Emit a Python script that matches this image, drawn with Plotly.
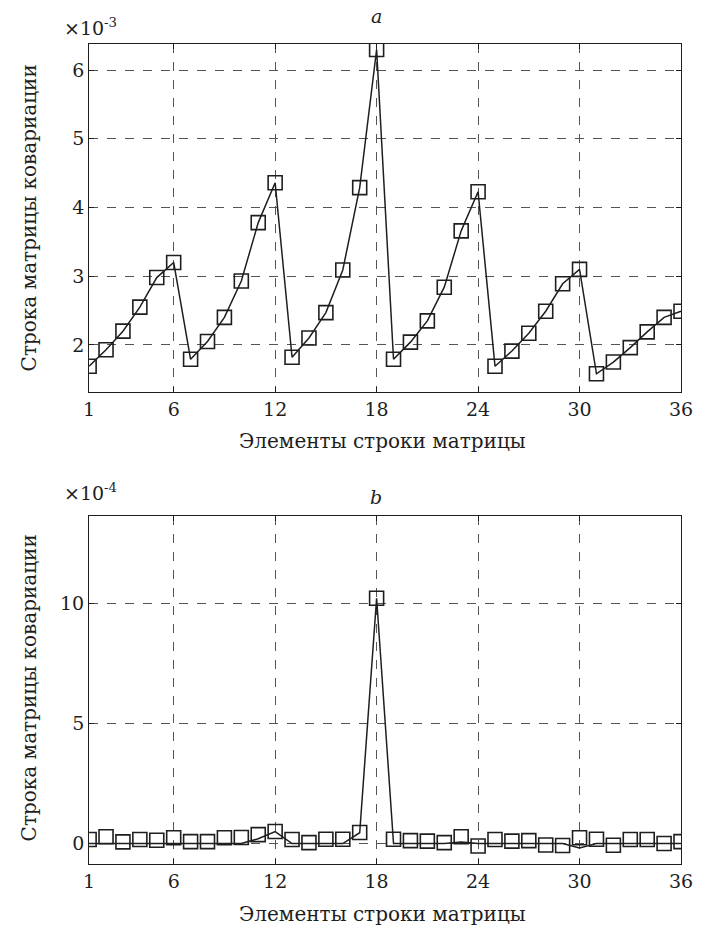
import plotly.graph_objects as go

# ---- data ----
elements = list(range(1, 37))
row_a = [1.69, 1.93, 2.20, 2.55, 2.98, 3.20, 1.79, 2.05, 2.40, 2.93, 3.78, 4.36,
         1.82, 2.10, 2.47, 3.09, 4.29, 6.30, 1.79, 2.04, 2.35, 2.84, 3.66, 4.23,
         1.69, 1.91, 2.17, 2.49, 2.89, 3.10, 1.58, 1.75, 1.96, 2.19, 2.40, 2.49]
line_b = [0, 0, 0, 0, 0, 0, 0, 0, 0, 0, 0.2, 0.5,
          0, 0, 0, 0, 0.45, 10.2, 0, 0, 0, 0, 0.06, 0,
          0, 0, 0, 0, 0, -0.18, 0, 0, 0, 0, 0, 0]
markers_b = [0.17, 0.28, 0.07, 0.17, 0.14, 0.24, 0.08, 0.08, 0.24, 0.25, 0.37, 0.50,
             0.17, 0.04, 0.18, 0.18, 0.46, 10.2, 0.18, 0.12, 0.10, 0.04, 0.28, -0.10,
             0.17, 0.10, 0.12, -0.06, -0.08, 0.24, 0.18, -0.07, 0.17, 0.17, 0.00, 0.08]
x_ticks = [1, 6, 12, 18, 24, 30, 36]
ya_ticks = [2, 3, 4, 5, 6]
yb_ticks = [0, 5, 10]

W, H = 705, 929
FONT = "'DejaVu Serif', 'Liberation Serif', serif"
INK = "#1e1e1e"

def py(pix):
    return 1 - pix / H

def px(pix):
    return pix / W

fig = go.Figure()
fig.add_trace(go.Scatter(x=elements, y=row_a, mode="lines+markers",
                         line=dict(color=INK, width=1.5),
                         marker=dict(symbol="square-open", size=14, color=INK, line=dict(width=1.6)),
                         xaxis="x", yaxis="y", showlegend=False))
fig.add_trace(go.Scatter(x=elements, y=line_b, mode="lines",
                         line=dict(color=INK, width=1.5),
                         xaxis="x2", yaxis="y2", showlegend=False))
fig.add_trace(go.Scatter(x=elements, y=markers_b, mode="markers",
                         marker=dict(symbol="square-open", size=14, color=INK, line=dict(width=1.6)),
                         xaxis="x2", yaxis="y2", showlegend=False))

xdom = [px(85.3), px(692.7)]
common_x = dict(range=[1, 36], tickvals=x_ticks, ticks="inside", ticklen=5, tickcolor=INK,
                showline=True, linecolor=INK, linewidth=1.2, mirror="ticks",
                showgrid=True, gridcolor="#555555", griddash="dash", gridwidth=1,
                zeroline=False, tickfont=dict(family=FONT, size=19, color=INK))
common_y = dict(ticks="inside", ticklen=5, tickcolor=INK,
                showline=True, linecolor=INK, linewidth=1.2, mirror="ticks",
                showgrid=True, gridcolor="#555555", griddash="dash", gridwidth=1,
                zeroline=False, tickfont=dict(family=FONT, size=19, color=INK))

fig.update_layout(
    width=W, height=H, margin=dict(l=0, r=0, t=0, b=0),
    paper_bgcolor="white", plot_bgcolor="white",
    font=dict(family=FONT, color=INK),
    xaxis=dict(domain=xdom, anchor="y", **common_x),
    yaxis=dict(domain=[py(392.3), py(44)], anchor="x", range=[1.31, 6.38], tickvals=ya_ticks, **common_y),
    xaxis2=dict(domain=xdom, anchor="y2", **common_x),
    yaxis2=dict(domain=[py(864), py(515.7)], anchor="x2", range=[-0.85, 13.63], tickvals=yb_ticks, **common_y),
)

ann = [
    dict(text="<i>a</i>", x=px(380), y=py(16), font=dict(size=19)),
    dict(text="<i>b</i>", x=px(380), y=py(497), font=dict(size=19)),
    dict(text="×10<sup>-3</sup>", x=px(87), y=py(27), font=dict(size=19)),
    dict(text="×10<sup>-4</sup>", x=px(87), y=py(492), font=dict(size=19)),
    dict(text="Элементы строки матрицы", x=px(386), y=py(441), font=dict(size=20)),
    dict(text="Элементы строки матрицы", x=px(386), y=py(914), font=dict(size=20)),
    dict(text="Строка матрицы ковариации", x=px(24), y=py(218), font=dict(size=20), textangle=-90),
    dict(text="Строка матрицы ковариации", x=px(24), y=py(688), font=dict(size=20), textangle=-90),
]
for a in ann:
    f = a.pop("font")
    fig.add_annotation(xref="paper", yref="paper", showarrow=False, xanchor="center", yanchor="middle",
                       font=dict(family=FONT, color=INK, **f), **a)

fig.write_html("out.html", config={"displayModeBar": False},
               post_script="document.body.style.margin='0';document.body.style.padding='0';")
